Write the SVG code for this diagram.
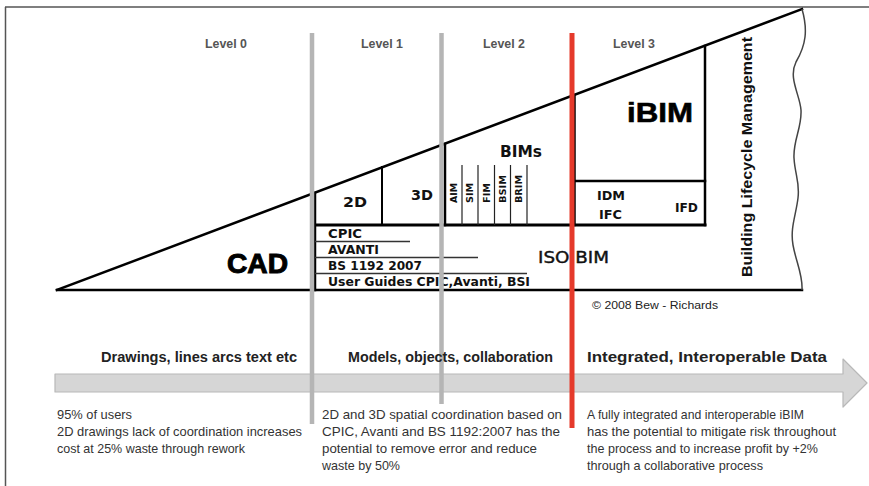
<svg xmlns="http://www.w3.org/2000/svg" width="869" height="486" viewBox="0 0 869 486">
<style>
.blk{stroke:#000;fill:none;stroke-linecap:square}
.gl{stroke:#b5b5b5;stroke-width:4.5}
.lvl{font-family:"Liberation Sans",Arial,sans-serif;font-size:13px;fill:#555;font-weight:bold}
.vb{font-family:"DejaVu Sans",Verdana,sans-serif;font-weight:bold;fill:#111}
.hd{font-family:"Liberation Sans",Arial,sans-serif;font-size:14px;font-weight:bold;fill:#222}
.bt{font-family:"Liberation Sans",Arial,sans-serif;font-size:13px;fill:#333}
</style>
<rect width="869" height="486" fill="#fff"/>
<g id="frame">
<line x1="5" y1="7" x2="869" y2="7" stroke="#555" stroke-width="1.5"/>
<line x1="5.5" y1="7" x2="5.5" y2="486" stroke="#555" stroke-width="1.5"/>
</g>
<g id="level-labels">
<text class="lvl" x="205" y="48" textLength="42" lengthAdjust="spacingAndGlyphs">Level 0</text>
<text class="lvl" x="361" y="48" textLength="42" lengthAdjust="spacingAndGlyphs">Level 1</text>
<text class="lvl" x="483" y="48" textLength="42" lengthAdjust="spacingAndGlyphs">Level 2</text>
<text class="lvl" x="613" y="48" textLength="42" lengthAdjust="spacingAndGlyphs">Level 3</text>
</g>
<g id="triangle">
<path class="blk" stroke-width="2.5" d="M57,290 L802,9"/>
<line class="blk" stroke-width="2.5" x1="57" y1="290" x2="802" y2="290"/>
<path d="M802,9 C808,30 806,45 796,62 C788,78 800,95 801,110 C802,128 793,140 794,158 C795,175 800,182 798,198 C796,215 790,228 793,245 C796,262 803,275 802,290" fill="none" stroke="#444" stroke-width="1.5"/>
<text x="227" y="273" font-family="Liberation Sans,Arial,sans-serif" font-size="28" font-weight="bold" stroke="#000" stroke-width="1" textLength="61" lengthAdjust="spacingAndGlyphs">CAD</text>
</g>
<g id="level1-2d3d">
<line class="blk" stroke-width="2.5" x1="315" y1="193" x2="315" y2="290"/>
<line class="blk" stroke-width="2" x1="382" y1="167" x2="382" y2="225"/>
<line class="blk" stroke-width="3" x1="315" y1="225" x2="705" y2="225"/>
<text class="vb" x="343" y="207" font-size="14" textLength="24" lengthAdjust="spacingAndGlyphs">2D</text>
<text class="vb" x="411" y="200" font-size="14" textLength="22" lengthAdjust="spacingAndGlyphs">3D</text>
</g>
<g id="standards">
<line stroke="#333" stroke-width="1.3" x1="315" y1="241.5" x2="410" y2="241.5"/>
<line stroke="#333" stroke-width="1.3" x1="315" y1="257.5" x2="478" y2="257.5"/>
<line stroke="#333" stroke-width="1.3" x1="315" y1="273.5" x2="527" y2="273.5"/>
<text class="vb" x="328" y="238" font-size="12" textLength="34" lengthAdjust="spacingAndGlyphs">CPIC</text>
<text class="vb" x="328" y="254" font-size="12" textLength="51" lengthAdjust="spacingAndGlyphs">AVANTI</text>
<text class="vb" x="328" y="270" font-size="12" textLength="94" lengthAdjust="spacingAndGlyphs">BS 1192 2007</text>
<text class="vb" x="328" y="286" font-size="12" textLength="202" lengthAdjust="spacingAndGlyphs">User Guides CPIC,Avanti, BSI</text>
</g>
<g id="bims">
<line class="blk" stroke-width="2.5" x1="445" y1="144" x2="445" y2="225"/>
<g stroke="#222" stroke-width="1.2">
<line x1="462" y1="165" x2="462" y2="225"/>
<line x1="478" y1="165" x2="478" y2="225"/>
<line x1="494.5" y1="165" x2="494.5" y2="225"/>
<line x1="510.5" y1="165" x2="510.5" y2="225"/>
<line x1="527" y1="165" x2="527" y2="225"/>
</g>
<text class="vb" x="500" y="157" font-size="15" textLength="42" lengthAdjust="spacingAndGlyphs">BIMs</text>
<g class="vb" font-size="9">
<text transform="translate(457,203) rotate(-90)" textLength="20" lengthAdjust="spacingAndGlyphs">AIM</text>
<text transform="translate(473,203) rotate(-90)" textLength="20" lengthAdjust="spacingAndGlyphs">SIM</text>
<text transform="translate(490,203) rotate(-90)" textLength="20" lengthAdjust="spacingAndGlyphs">FIM</text>
<text transform="translate(506,203) rotate(-90)" textLength="28" lengthAdjust="spacingAndGlyphs">BSIM</text>
<text transform="translate(522,203) rotate(-90)" textLength="28" lengthAdjust="spacingAndGlyphs">BRIM</text>
</g>
</g>
<g id="ibim">
<line class="blk" stroke-width="2.5" x1="574.5" y1="95" x2="574.5" y2="225"/>
<line class="blk" stroke-width="2.5" x1="705" y1="46" x2="705" y2="225"/>
<line class="blk" stroke-width="2.5" x1="574.5" y1="181" x2="705" y2="181"/>
<text x="627" y="122" font-family="Liberation Sans,Arial,sans-serif" font-size="28" font-weight="bold" stroke="#000" stroke-width="0.6" textLength="66" lengthAdjust="spacingAndGlyphs">iBIM</text>
<text class="vb" x="597" y="200" font-size="12" textLength="28" lengthAdjust="spacingAndGlyphs">IDM</text>
<text class="vb" x="599" y="219" font-size="12" textLength="23" lengthAdjust="spacingAndGlyphs">IFC</text>
<text class="vb" x="675" y="212" font-size="12" textLength="23" lengthAdjust="spacingAndGlyphs">IFD</text>
</g>
<g id="isobim">
<text x="538" y="263" font-family="DejaVu Sans,Verdana,sans-serif" font-size="16" fill="#111" stroke="#111" stroke-width="0.4" textLength="71" lengthAdjust="spacingAndGlyphs">ISO BIM</text>
</g>
<g id="blm">
<text transform="translate(752,277) rotate(-90)" font-family="Liberation Sans,Arial,sans-serif" font-size="15" font-weight="bold" fill="#111" textLength="240" lengthAdjust="spacingAndGlyphs">Building Lifecycle Management</text>
</g>
<text x="592" y="309" font-family="Liberation Sans,Arial,sans-serif" font-size="11" fill="#222" textLength="126" lengthAdjust="spacingAndGlyphs">© 2008 Bew - Richards</text>
<g id="arrow">
<polygon points="55,374 843,374 843,359 867,383 843,407 843,392 55,392" fill="#d6d6d6" stroke="#b8b8b8" stroke-width="1.2" stroke-linejoin="round"/>
</g>
<g id="connectors">
<line class="gl" x1="312" y1="33" x2="312" y2="424"/>
<line class="gl" x1="441.5" y1="33" x2="441.5" y2="404"/>
<line x1="572" y1="33" x2="572" y2="428" stroke="#e53a2b" stroke-width="5"/>
</g>
<g id="headers">
<text class="hd" x="101" y="362" textLength="196" lengthAdjust="spacingAndGlyphs">Drawings, lines arcs text etc</text>
<text class="hd" x="348" y="362" textLength="205" lengthAdjust="spacingAndGlyphs">Models, objects, collaboration</text>
<text class="hd" x="587" y="362" textLength="240" lengthAdjust="spacingAndGlyphs">Integrated, Interoperable Data</text>
</g>
<g id="notes">
<text class="bt" x="57" y="419" textLength="75" lengthAdjust="spacingAndGlyphs">95% of users</text>
<text class="bt" x="57" y="436" textLength="245" lengthAdjust="spacingAndGlyphs">2D drawings lack of coordination increases</text>
<text class="bt" x="57" y="453" textLength="188" lengthAdjust="spacingAndGlyphs">cost at 25% waste through rework</text>
<text class="bt" x="322" y="419" textLength="240" lengthAdjust="spacingAndGlyphs">2D and 3D spatial coordination based on</text>
<text class="bt" x="322" y="436" textLength="238" lengthAdjust="spacingAndGlyphs">CPIC, Avanti and BS 1192:2007 has the</text>
<text class="bt" x="322" y="453" textLength="215" lengthAdjust="spacingAndGlyphs">potential to remove error and reduce</text>
<text class="bt" x="322" y="470" textLength="78" lengthAdjust="spacingAndGlyphs">waste by 50%</text>
<text class="bt" x="587" y="419" textLength="217" lengthAdjust="spacingAndGlyphs">A fully integrated and interoperable iBIM</text>
<text class="bt" x="587" y="436" textLength="249" lengthAdjust="spacingAndGlyphs">has the potential to mitigate risk throughout</text>
<text class="bt" x="587" y="453" textLength="231" lengthAdjust="spacingAndGlyphs">the process and to increase profit by +2%</text>
<text class="bt" x="587" y="470" textLength="176" lengthAdjust="spacingAndGlyphs">through a collaborative process</text>
</g>
</svg>
